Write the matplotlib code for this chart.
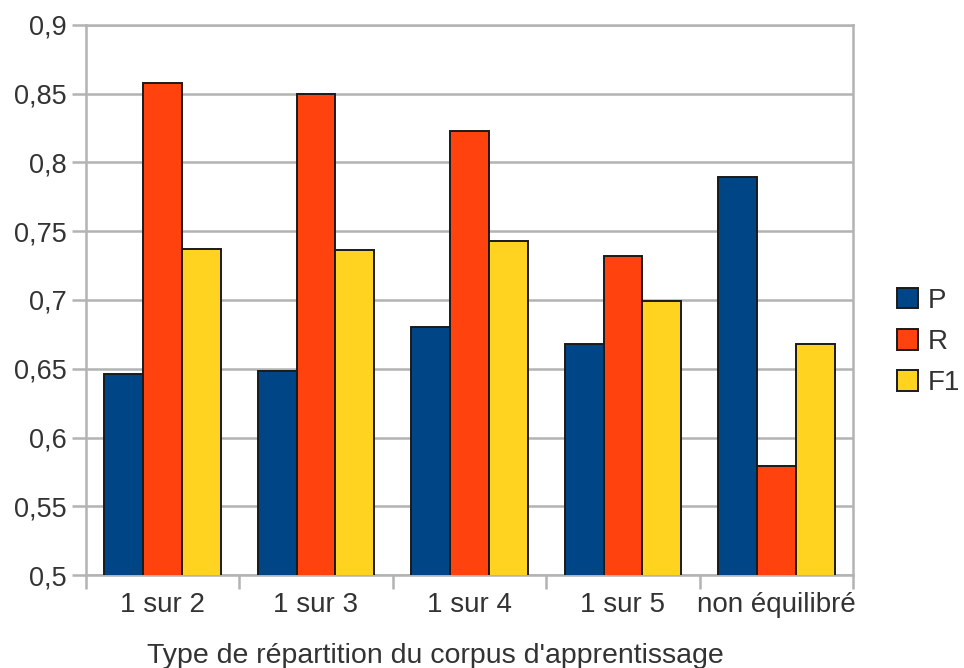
import numpy as np
import matplotlib.pyplot as plt

# données
categories = ["1 sur 2", "1 sur 3", "1 sur 4", "1 sur 5", "non équilibré"]
series = ["P", "R", "F1"]
P = [0.646, 0.648, 0.680, 0.668, 0.789]
R = [0.858, 0.850, 0.823, 0.732, 0.579]
F1 = [0.737, 0.736, 0.743, 0.699, 0.668]
couleurs = ["#004586", "#ff420e", "#ffd320"]

plt.rcParams['font.family'] = ['Liberation Sans', 'DejaVu Sans']
gris = "#b3b3b3"
texte = "#333333"

fig = plt.figure(figsize=(9.64, 6.68), dpi=100)
ax = fig.add_axes([0.089, 0.139, 0.796, 0.824])

x = np.arange(len(categories))
largeur = 0.253
for i, (vals, nom) in enumerate(zip([P, R, F1], series)):
    ax.bar(x + (i - 1) * largeur, vals, largeur, color=couleurs[i],
           edgecolor="#1a1a1a", linewidth=1.4, label=nom, zorder=3)

ax.set_ylim(0.5, 0.9)
ax.set_xlim(-0.5, len(categories) - 0.5)
yt = np.arange(0.5, 0.901, 0.05)
ax.set_yticks(yt)
ax.set_yticklabels([f"{v:g}".replace(".", ",") for v in np.round(yt, 2)],
                   fontsize=19.5, color=texte)
ax.yaxis.grid(True, color=gris, linewidth=1.8, zorder=0)

# ticks aux limites des groupes, étiquettes au centre
ax.set_xticks(np.arange(-0.5, len(categories)), minor=False)
ax.set_xticklabels([])
ax.set_xticks(x, minor=True)
ax.set_xticklabels(categories, minor=True, fontsize=20, color=texte)
ax.tick_params(axis="x", which="major", length=10, width=1.8, color=gris)
ax.tick_params(axis="x", which="minor", length=0, pad=12)
ax.tick_params(axis="y", length=10, width=1.8, color=gris, pad=4)

for s in ["left", "right", "bottom", "top"]:
    ax.spines[s].set_color(gris)
    ax.spines[s].set_linewidth(1.8)

ax.set_xlabel("Type de répartition du corpus d'apprentissage",
              fontsize=20.5, color=texte, labelpad=18, x=0.455)

leg = fig.legend(loc="center left", bbox_to_anchor=(0.931, 0.488), frameon=False,
                 fontsize=20, handlelength=0.75, handleheight=0.75,
                 handletextpad=0.35, labelspacing=0.55, labelcolor=texte,
                 borderaxespad=0, borderpad=0)

fig.savefig("out.png", dpi=100)
